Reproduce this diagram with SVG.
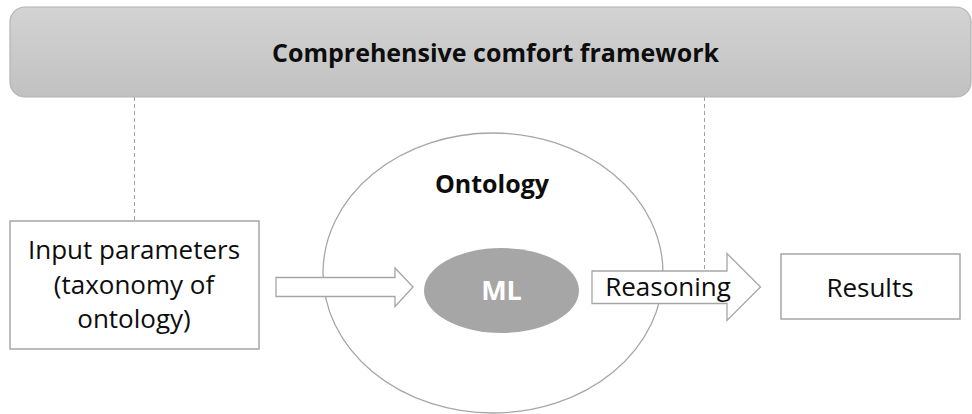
<svg xmlns="http://www.w3.org/2000/svg" width="972" height="414" viewBox="0 0 972 414">
<defs>
<linearGradient id="bannerGrad" x1="0" y1="0" x2="0" y2="1">
<stop offset="0" stop-color="#d3d3d3"/>
<stop offset="1" stop-color="#c1c1c1"/>
</linearGradient>
</defs>
<style>
.box{fill:#ffffff;stroke:#a6a6a6;stroke-width:1.5}
.arrow{fill:#ffffff;stroke:#a6a6a6;stroke-width:1.3;stroke-linejoin:miter}
.dash{stroke:#a0a0a0;stroke-width:1;stroke-dasharray:4 3;fill:none}
.t{font-family:"Open Sans","Liberation Sans",sans-serif;fill:#0d0d0d;text-anchor:middle}
.b{font-weight:bold}
</style>
<rect width="972" height="414" fill="#ffffff"/>
<g id="connectors">
<line class="dash" x1="134.5" y1="97" x2="134.5" y2="221"/>
<line class="dash" x1="704.5" y1="97" x2="704.5" y2="271"/>
</g>
<g id="framework">
<rect x="10" y="7" width="961" height="90" rx="15" ry="15" fill="url(#bannerGrad)" stroke="#b3b3b3" stroke-width="1.2"/>
<text class="t b" x="495.5" y="62" font-size="25">Comprehensive comfort framework</text>
</g>
<g id="ontology">
<ellipse cx="493" cy="273" rx="170" ry="140" fill="none" stroke="#a6a6a6" stroke-width="1.3"/>
<text class="t b" x="492" y="193" font-size="25">Ontology</text>
</g>
<g id="input">
<rect class="box" x="10" y="221" width="249" height="128"/>
<text class="t" x="134" y="259" font-size="26">Input parameters</text>
<text class="t" x="134" y="294" font-size="26">(taxonomy of</text>
<text class="t" x="134" y="328" font-size="26">ontology)</text>
</g>
<g id="input-arrow">
<polygon class="arrow" points="276,277.5 395,277.5 395,268 413,287 395,306.5 395,296.5 276,296.5"/>
</g>
<g id="ml">
<ellipse cx="501.5" cy="290.5" rx="77.5" ry="42.5" fill="#a6a6a6"/>
<text class="t b" x="501.5" y="300" font-size="27" style="fill:#ffffff">ML</text>
</g>
<g id="reasoning">
<polygon class="arrow" points="592,271 727,271 727,253.5 760.5,287 727,320.5 727,303.5 592,303.5"/>
<text class="t" x="668" y="296" font-size="26">Reasoning</text>
</g>
<g id="results">
<rect class="box" x="781" y="254" width="179" height="65"/>
<text class="t" x="870" y="297" font-size="26">Results</text>
</g>
</svg>
